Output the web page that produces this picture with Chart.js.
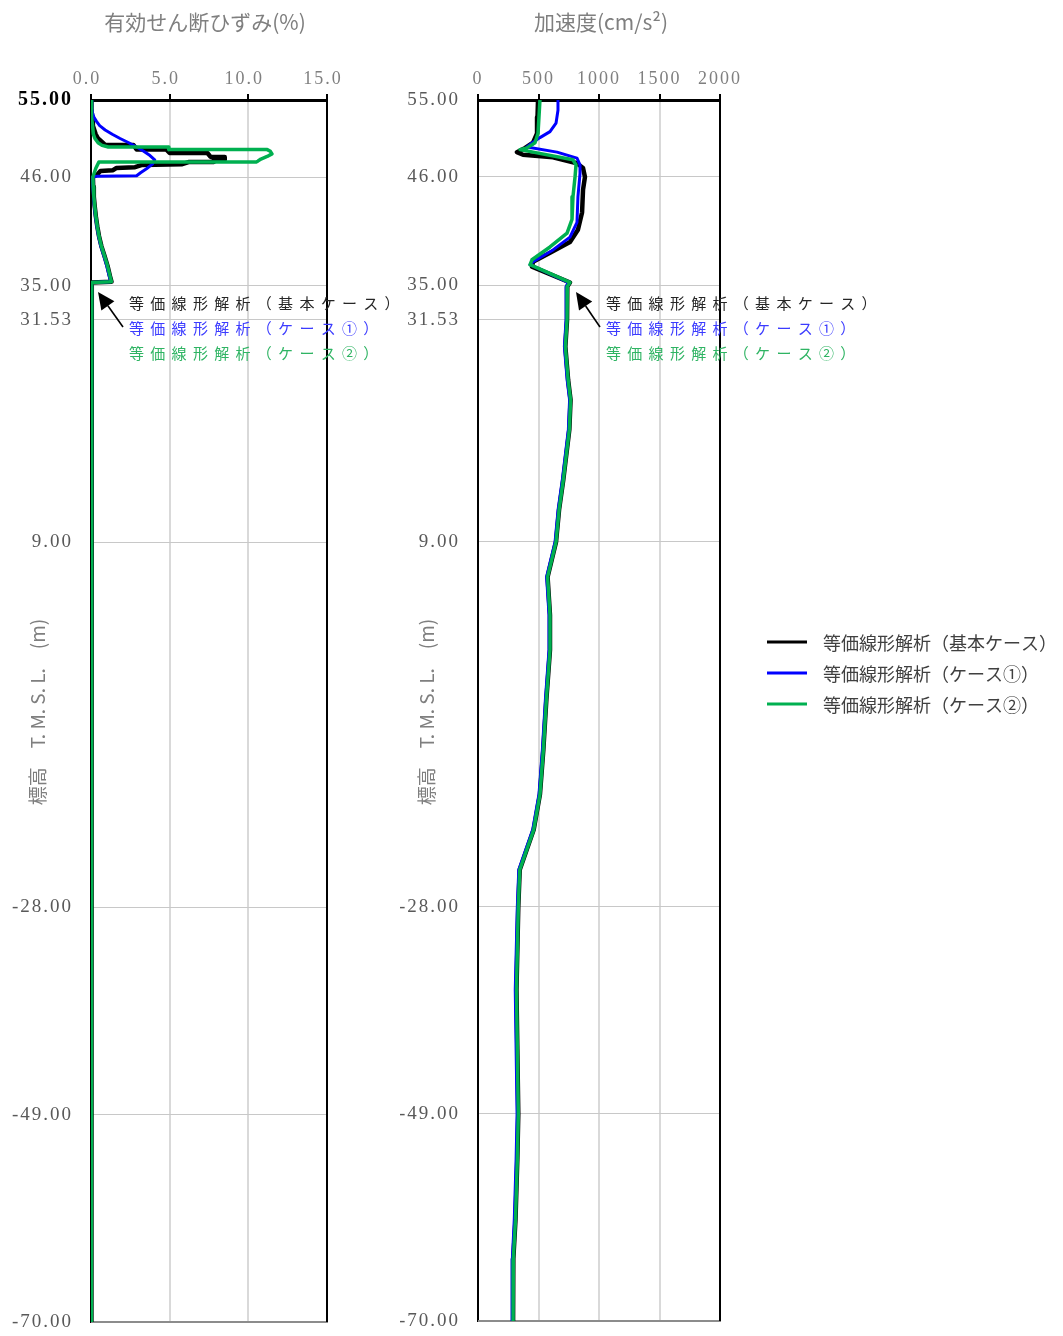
<!DOCTYPE html>
<html><head><meta charset="utf-8">
<script src="https://cdn.jsdelivr.net/npm/chart.js@4.4.1/dist/chart.umd.min.js"></script>
<style>
html,body{margin:0;padding:0;background:#fff;}
#wrap{position:relative;width:1063px;height:1336px;overflow:hidden;background:#fff;}
#c1{position:absolute;left:0;top:0;}
#c2{position:absolute;left:400px;top:0;}
</style></head><body>
<div id="wrap"><canvas id="c1" width="400" height="1336"></canvas><canvas id="c2" width="663" height="1336"></canvas></div>
<script>
// ---------------- DATA ----------------
const SERIES_NAMES = ['等価線形解析（基本ケース）', '等価線形解析（ケース①）', '等価線形解析（ケース②）'];
const ELEV_TICKS = [55, 46, 35, 31.53, 9, -28, -49, -70];
const STRAIN_TICKS = [0, 5, 10, 15];
const ACC_TICKS = [0, 500, 1000, 1500, 2000];

// Effective shear strain (%) — upper layers, per series
const strainBaseUpperElev = [55, 54, 53, 52, 51, 50.5, 50.0, 49.75, 49.75, 49.2, 49.2, 48.8, 48.8, 48.35, 48.35, 48.0, 48.0, 47.75, 47.75, 47.5, 47.4, 47.15, 47.05, 46.8, 46.7, 46.3];
const strainBaseUpper     = [0, 0.03, 0.07, 0.12, 0.3, 0.45, 0.75, 0.9, 2.7, 2.9, 4.8, 5.0, 7.4, 7.6, 8.5, 8.5, 7.8, 7.8, 6.2, 5.8, 3.2, 2.8, 1.6, 1.4, 0.6, 0.4];
const strainCase1UpperElev = [55, 54, 53.5, 53, 52.5, 52, 51.5, 51, 50.5, 50, 49.5, 49, 48.5, 48, 47.5, 47, 46.5, 46.15, 46.1];
const strainCase1Upper     = [0, 0.05, 0.1, 0.18, 0.35, 0.55, 0.9, 1.35, 1.85, 2.4, 2.9, 3.35, 3.75, 4.05, 3.9, 3.55, 3.15, 2.9, 0.4];
const strainCase2UpperElev = [55, 54, 53, 52, 51, 50.5, 50, 49.7, 49.5, 49.5, 49.2, 49.2, 49.0, 48.7, 48.4, 48.1, 47.85, 47.75, 47.75, 47.0];
const strainCase2Upper     = [0, 0.02, 0.05, 0.1, 0.15, 0.25, 0.45, 0.7, 1.1, 4.9, 4.95, 11.2, 11.4, 11.5, 11.2, 10.8, 10.6, 10.5, 0.5, 0.3];
// lower layers
const strainLowerElev  = [46.0, 45, 44, 43, 42, 41, 40, 39, 38, 37, 36, 35.4, 35.3, 35.0, 31.53, 20, 9, 0, -28, -49, -70];
const strainLower      = [0.12, 0.14, 0.18, 0.24, 0.31, 0.40, 0.51, 0.66, 0.86, 1.05, 1.2, 1.3, 0.05, 0.05, 0.04, 0.03, 0.03, 0.02, 0.02, 0.01, 0.01];
const strainLowerCase1 = [0.10, 0.12, 0.16, 0.21, 0.28, 0.37, 0.48, 0.62, 0.82, 1.0, 1.15, 1.25, 0.04, 0.04, 0.03, 0.02, 0.02, 0.02, 0.01, 0.01, 0.01];

// Acceleration (cm/s2) — upper layers, per series
const accBaseUpperElev = [55, 53, 51.1, 50, 49.4, 48.9, 48.6, 48.3, 47.6, 47.05, 46, 44.7, 42.4, 40.65, 39.4, 38.3, 37.4, 36.9, 35.3];
const accBaseUpper     = [496, 492, 488, 455, 390, 322, 372, 620, 818, 868, 884, 868, 860, 826, 760, 595, 455, 446, 760];
const accCase1UpperElev = [55, 53.8, 52.3, 51.3, 50.6, 49.97, 49.5, 48.9, 48.2, 47.4, 46.4, 44.0, 41.4, 39.9, 38.6, 37.4, 37.1, 35.3];
const accCase1Upper     = [661, 661, 645, 595, 512, 446, 405, 653, 818, 843, 843, 826, 818, 760, 620, 455, 430, 745];
const accCase2UpperElev = [55, 51.1, 50, 49.4, 49.2, 48.9, 48.0, 47.4, 46.0, 44, 41.7, 40.3, 38.9, 37.6, 37.1, 35.3];
const accCase2Upper     = [512, 496, 471, 405, 347, 455, 785, 810, 802, 785, 777, 736, 595, 446, 430, 760];
// lower layers
const accLowerElev  = [34.9, 31.53, 28.8, 25.4, 23.4, 20.4, 15.3, 12.25, 9.0, 5.45, 1.6, -1.95, -7.0, -12.1, -16.6, -20.2, -24.25, -28, -36.4, -42.4, -49, -53.6, -59.7, -63.7, -70];
const accLower      = [738, 736, 722, 745, 765, 755, 705, 670, 645, 575, 595, 595, 565, 540, 512, 460, 345, 333, 318, 325, 333, 325, 310, 292, 290];
const accLowerCase1 = [730, 728, 714, 737, 757, 747, 697, 662, 637, 567, 587, 587, 557, 532, 504, 452, 337, 325, 308, 315, 323, 315, 300, 284, 282];

// ---------------- STYLE ----------------
const COLORS = ['#000000', '#0000ff', '#00b050'];
const WIDTHS = [4.5, 3, 3.5];
const ANNOT_COLORS = ['#262626', '#3b3bff', '#2fb463'];

// custom elevation scale (compressed top layer, as in the reference axis)
class DepthScale extends Chart.LinearScale {
  static id = 'depth';
  _toFrac(v) {
    const b = this.options.breakValue, f = this.options.breakFraction;
    const lo = this.min, hi = this.max;
    return v <= b ? (v - lo) / (b - lo) * f : f + (v - b) / (hi - b) * (1 - f);
  }
  getPixelForValue(v) {
    if (v === null || v === undefined || isNaN(v)) return NaN;
    return this.getPixelForDecimal(this._toFrac(v));
  }
  getValueForPixel(p) {
    const d = this.getDecimalForPixel(p);
    const b = this.options.breakValue, f = this.options.breakFraction;
    const lo = this.min, hi = this.max;
    return d <= f ? lo + d / f * (b - lo) : b + (d - f) / (1 - f) * (hi - b);
  }
}
Chart.register(DepthScale);

function pts(xs, ys) { return ys.map((y, i) => ({ x: xs[i], y: y })); }

function makeDatasets(series) {
  const idx = [2, 1, 0];
  return idx.map(i => ({
    label: SERIES_NAMES[i],
    data: series[i],
    showLine: true,
    borderColor: COLORS[i],
    backgroundColor: COLORS[i],
    borderWidth: WIDTHS[i],
    pointRadius: 0,
    tension: 0,
    borderJoinStyle: 'round',
    borderCapStyle: 'round',
    fill: false
  }));
}

const strainSeries = [
  pts(strainBaseUpper.concat(strainLower), strainBaseUpperElev.concat(strainLowerElev)),
  pts(strainCase1Upper.concat(strainLowerCase1), strainCase1UpperElev.concat(strainLowerElev)),
  pts(strainCase2Upper.concat(strainLower), strainCase2UpperElev.concat(strainLowerElev))
];
const accSeries = [
  pts(accBaseUpper.concat(accLower), accBaseUpperElev.concat(accLowerElev)),
  pts(accCase1Upper.concat(accLowerCase1), accCase1UpperElev.concat(accLowerElev)),
  pts(accCase2Upper.concat(accLower), accCase2UpperElev.concat(accLowerElev))
];

const CJK = '"Noto Sans CJK JP", "Noto Sans", sans-serif';
const SERIF = '"Liberation Serif", "DejaVu Serif", serif';
Chart.defaults.font.family = SERIF;

function decorPlugin(cfg) {
  return {
    id: 'decor',
    beforeDraw(chart) { chart.ctx.letterSpacing = '2px'; },
    beforeDatasetsDraw(chart) {
      const ctx = chart.ctx, a = chart.chartArea;
      ctx.save();
      ctx.lineWidth = 2;
      ctx.strokeStyle = '#8c8c8c';
      ctx.beginPath(); ctx.moveTo(a.left, a.bottom); ctx.lineTo(a.right + 1, a.bottom); ctx.stroke();
      ctx.strokeStyle = '#000';
      ctx.lineWidth = 2;
      ctx.beginPath(); ctx.moveTo(a.right, a.top - 1); ctx.lineTo(a.right, a.bottom); ctx.stroke();
      ctx.restore();
    },
    afterDraw(chart) {
      const ctx = chart.ctx, a = chart.chartArea;
      ctx.save();
      ctx.letterSpacing = '0px';
      ctx.fillStyle = '#7f7f7f';
      ctx.font = '21px ' + CJK;
      ctx.textAlign = 'center';
      ctx.textBaseline = 'middle';
      ctx.fillText(cfg.title, cfg.titleX, 22);
      ctx.save();
      ctx.translate(cfg.yTitleX, 712);
      ctx.rotate(-Math.PI / 2);
      ctx.font = '19px ' + CJK;
      ctx.fillText('標高　T. M. S. L.　(m)', 0, 0);
      ctx.restore();
      // annotation arrow
      const tip = { x: a.left + cfg.arrowTipDx, y: 292 };
      const tail = { x: a.left + cfg.arrowTailDx, y: 327 };
      const ang = Math.atan2(tip.y - tail.y, tip.x - tail.x);
      const hl = 17, hw = 8;
      const bx = tip.x - hl * Math.cos(ang), by = tip.y - hl * Math.sin(ang);
      ctx.strokeStyle = '#000'; ctx.fillStyle = '#000'; ctx.lineWidth = 1.6;
      ctx.beginPath(); ctx.moveTo(tail.x, tail.y); ctx.lineTo(bx, by); ctx.stroke();
      ctx.beginPath();
      ctx.moveTo(tip.x, tip.y);
      ctx.lineTo(bx + hw * Math.sin(ang), by - hw * Math.cos(ang));
      ctx.lineTo(bx - hw * Math.sin(ang), by + hw * Math.cos(ang));
      ctx.closePath(); ctx.fill();
      // annotation texts
      ctx.font = '15px ' + CJK;
      ctx.textAlign = 'left';
      ctx.textBaseline = 'middle';
      const ys = [303, 328, 353];
      SERIES_NAMES.forEach((name, i) => {
        ctx.fillStyle = ANNOT_COLORS[i];
        Array.from(name).forEach((ch, k) => ctx.fillText(ch, a.left + cfg.textDx + k * 21.3, ys[i]));
      });
      if (cfg.legend) {
        const ly = [642, 673, 704];
        SERIES_NAMES.forEach((name, i) => {
          ctx.strokeStyle = COLORS[i];
          ctx.lineWidth = 3;
          ctx.beginPath(); ctx.moveTo(cfg.legend.x, ly[i]); ctx.lineTo(cfg.legend.x + 40, ly[i]); ctx.stroke();
          ctx.fillStyle = '#404040';
          ctx.font = '18px ' + CJK;
          ctx.fillText(name, cfg.legend.x + 56, ly[i] + 1);
        });
      }
      ctx.restore();
    }
  };
}

function makeChart(canvasId, series, xOpts, layoutPad, yWidth, boldTop, cfg) {
  return new Chart(document.getElementById(canvasId), {
    type: 'scatter',
    data: { datasets: makeDatasets(series) },
    options: {
      responsive: false,
      animation: false,
      events: [],
      devicePixelRatio: 1,
      layout: { padding: layoutPad },
      plugins: { legend: { display: false }, tooltip: { enabled: false }, title: { display: false } },
      scales: {
        x: Object.assign({
          type: 'linear',
          position: 'top',
          afterFit(s) { s.height = 100; s.paddingLeft = 0; s.paddingRight = 0; },
          grid: { color: '#d9d9d9', lineWidth: 2, drawTicks: true, tickLength: 6, tickColor: '#000', tickWidth: 2 },
          border: { color: '#000', width: 3 },
        }, xOpts),
        y: {
          type: 'depth',
          min: -70, max: 55,
          breakValue: 46,
          breakFraction: 1145 / 1222,
          afterFit(s) { s.width = yWidth; s.paddingTop = 0; s.paddingBottom = 0; },
          afterBuildTicks(s) { s.ticks = ELEV_TICKS.map(v => ({ value: v })); },
          grid: { color: '#c8c8c8', lineWidth: 1, drawTicks: false },
          border: { color: '#000', width: 2 },
          ticks: {
            autoSkip: false,
            padding: 18,
            callback: v => Number(v).toFixed(2),
            color: c => (boldTop && c.tick && c.tick.value === 55) ? '#000' : '#595959',
            font: c => (boldTop && c.tick && c.tick.value === 55) ? { size: 20, weight: 'bold', family: SERIF } : { size: 19, family: SERIF }
          }
        }
      }
    },
    plugins: [decorPlugin(cfg)]
  });
}

makeChart('c1', strainSeries, {
  min: 0, max: 15,
  afterBuildTicks(s) { s.ticks = STRAIN_TICKS.map(v => ({ value: v })); },
  ticks: { autoSkip: false, padding: 4, labelOffset: -4, color: '#7f7f7f', font: { size: 18, family: SERIF }, callback: v => Number(v).toFixed(1) }
}, { left: 0, top: 0, right: 73, bottom: 14 }, 91, true, {
  title: '有効せん断ひずみ(%)', titleX: 205, yTitleX: 38,
  arrowTipDx: 7, arrowTailDx: 32, textDx: 38
});

makeChart('c2', accSeries, {
  min: 0, max: 2000,
  afterBuildTicks(s) { s.ticks = ACC_TICKS.map(v => ({ value: v })); },
  ticks: { autoSkip: false, padding: 4, color: '#7f7f7f', font: { size: 18, family: SERIF }, callback: v => String(v) }
}, { left: 0, top: 0, right: 343, bottom: 15 }, 78, false, {
  title: '加速度(cm/s²)', titleX: 201, yTitleX: 27,
  arrowTipDx: 98, arrowTailDx: 122, textDx: 128,
  legend: { x: 367 }
});
</script>
</body></html>
